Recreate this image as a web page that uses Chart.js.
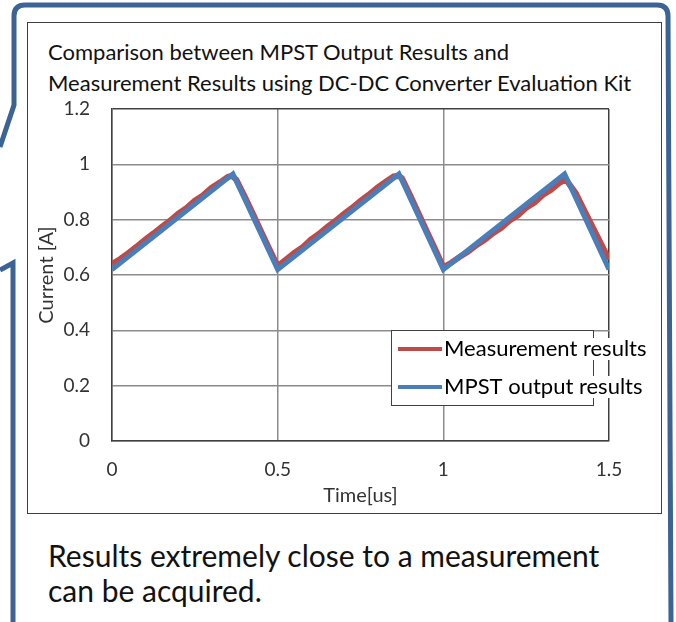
<!DOCTYPE html>
<html>
<head>
<meta charset="utf-8">
<script src="https://cdn.jsdelivr.net/npm/chart.js@4.4.0/dist/chart.umd.min.js"></script>
<style>
    body { margin: 0; background: #fff; }
    #page { position: relative; width: 676px; height: 622px; overflow: hidden; font-family: Lato, "Open Sans", sans-serif; }
    #frame { position: absolute; left: 0; top: 0; }
    #box { position: absolute; left: 27px; top: 22px; width: 635px; height: 492px; border: 1px solid #404040; box-sizing: border-box; }
    #title { position: absolute; left: 48px; top: 36px; font-size: 22px; line-height: 31px; color: #111; white-space: nowrap; }
    #chartWrap { position: absolute; left: 28px; top: 23px; }
    #caption { position: absolute; left: 48px; top: 538px; font-size: 30px; line-height: 35px; color: #111; white-space: nowrap; }
</style>
</head>
<body>
<div id="page">
    <svg id="frame" width="676" height="622">
        <path d="M 0 147 L 14 105 L 14 16 Q 14 5 25 5 L 657 5 Q 668 5 668 16 L 671 622" fill="none" stroke="#3b6495" stroke-width="5" />
        <path d="M 0 270 L 13 263 L 13 622" fill="none" stroke="#3b6495" stroke-width="5" />
    </svg>
    <div id="box"></div>
    <div id="title">Comparison between MPST Output Results and<br>Measurement Results using DC-DC Converter Evaluation Kit</div>
    <div id="chartWrap"><canvas id="myChart" width="632" height="489"></canvas></div>
    <div id="caption">Results extremely close to a measurement<br>can be acquired.</div>
</div>

<script>
const measTime = [0, 0.025, 0.05, 0.075, 0.1, 0.125, 0.15, 0.175, 0.2, 0.225, 0.25, 0.275, 0.3, 0.325, 0.35, 0.362,
    0.375, 0.4, 0.425, 0.45, 0.475, 0.5,
    0.525, 0.55, 0.575, 0.6, 0.625, 0.65, 0.675, 0.7, 0.725, 0.75, 0.775, 0.8, 0.825, 0.85, 0.866,
    0.875, 0.9, 0.925, 0.95, 0.975, 1.0,
    1.025, 1.05, 1.075, 1.1, 1.125, 1.15, 1.175, 1.2, 1.225, 1.25, 1.275, 1.3, 1.325, 1.35, 1.37,
    1.4, 1.425, 1.45, 1.475, 1.5];
const measCurrent = [0.64, 0.658, 0.68, 0.703, 0.728, 0.75, 0.774, 0.796, 0.822, 0.842, 0.869, 0.888, 0.915, 0.934, 0.955, 0.958,
    0.945, 0.885, 0.822, 0.757, 0.694, 0.632,
    0.656, 0.68, 0.7, 0.728, 0.749, 0.774, 0.796, 0.821, 0.843, 0.868, 0.89, 0.915, 0.936, 0.956, 0.958,
    0.95, 0.888, 0.823, 0.758, 0.695, 0.628,
    0.645, 0.666, 0.685, 0.708, 0.727, 0.751, 0.77, 0.797, 0.816, 0.843, 0.862, 0.889, 0.908, 0.933, 0.945,
    0.895, 0.835, 0.775, 0.715, 0.655];

// simulator output (clean sawtooth)
const mpstTime = [0, 0.365, 0.5, 0.866, 1.0, 1.366, 1.5];
const mpstCurrent = [0.62, 0.965, 0.62, 0.965, 0.62, 0.965, 0.62];

const seriesNames = ['Measurement results', 'MPST output results'];
const seriesColors = ['#be4b48', '#4a7ebb'];

const xTickValues = [0, 0.5, 1, 1.5];
const xTickLabels = ['0', '0.5', '1', '1.5'];
const yTickValues = [0, 0.2, 0.4, 0.6, 0.8, 1, 1.2];
const yTickLabels = ['0', '0.2', '0.4', '0.6', '0.8', '1', '1.2'];

const tickColor = '#333333';
const gridColor = '#8c8c8c';
const frameColor = '#404040';

function toPoints(xs, ys) {
    return xs.map((x, i) => ({ x: x, y: ys[i] }));
}

// legend drawn as a bordered box inside the plot, like the Excel one
const boxLegend = {
    id: 'boxLegend',
    afterDatasetsDraw(chart) {
        const ctx = chart.ctx;
        const area = chart.chartArea;
        const bx = area.right - 218;
        const by = area.top + 221;
        ctx.save();
        ctx.fillStyle = '#fff';
        ctx.fillRect(bx, by, 202, 75);
        ctx.strokeStyle = frameColor;
        ctx.lineWidth = 1;
        ctx.strokeRect(bx + 0.5, by + 0.5, 202, 75);
        ctx.font = '22px Lato, "Open Sans", sans-serif';
        ctx.textBaseline = 'middle';
        seriesNames.forEach((name, i) => {
            const ly = by + 19 + i * 38;
            const w = ctx.measureText(name).width;
            ctx.fillStyle = '#fff';
            ctx.fillRect(bx + 52, ly - 11, w + 2, 22);
            ctx.strokeStyle = seriesColors[i];
            ctx.lineWidth = 4;
            ctx.beginPath();
            ctx.moveTo(bx + 7, ly);
            ctx.lineTo(bx + 51, ly);
            ctx.stroke();
            ctx.fillStyle = '#000';
            ctx.fillText(name, bx + 53, ly);
        });
        ctx.restore();
    }
};

var ctx = document.getElementById('myChart');

const myChart = new Chart(ctx, {
    type: 'line',
    data: {
        datasets: [{
            label: seriesNames[0],
            data: toPoints(measTime, measCurrent),
            borderColor: seriesColors[0],
            backgroundColor: seriesColors[0],
            borderWidth: 6,
            pointRadius: 0,
            order: 1
        }, {
            label: seriesNames[1],
            data: toPoints(mpstTime, mpstCurrent),
            borderColor: seriesColors[1],
            backgroundColor: seriesColors[1],
            borderWidth: 5,
            pointRadius: 0,
            order: 0
        }]
    },
    options: {
        responsive: false,
        animation: false,
        layout: { padding: { left: 0, top: 86, right: 51, bottom: 0 } },
        plugins: {
            legend: { display: false },
            tooltip: { enabled: false }
        },
        scales: {
            x: {
                type: 'linear',
                min: 0,
                max: 1.5,
                afterBuildTicks: (scale) => { scale.ticks = xTickValues.map(v => ({ value: v })); },
                afterFit: (scale) => { scale.height = 71; },
                ticks: {
                    callback: (v, i) => xTickLabels[i],
                    color: tickColor,
                    font: { family: 'Lato', size: 19 },
                    padding: 17,
                    maxRotation: 0
                },
                grid: {
                    drawTicks: false,
                    lineWidth: 1.5,
                    color: (c) => c.index === xTickValues.length - 1 ? frameColor : gridColor
                },
                border: { color: frameColor, width: 1.5 },
                title: {
                    display: true,
                    text: 'Time[us]',
                    color: tickColor,
                    font: { family: 'Lato', size: 20 },
                    padding: { top: 0, bottom: 4 }
                }
            },
            y: {
                min: 0,
                max: 1.2,
                afterBuildTicks: (scale) => { scale.ticks = yTickValues.map(v => ({ value: v })); },
                afterFit: (scale) => { scale.width = 84; },
                ticks: {
                    callback: (v, i) => yTickLabels[i],
                    color: tickColor,
                    font: { family: 'Lato', size: 19 },
                    padding: 22
                },
                grid: {
                    drawTicks: false,
                    lineWidth: 1.5,
                    color: (c) => c.index === yTickValues.length - 1 ? frameColor : gridColor
                },
                border: { color: frameColor, width: 1.5 },
                title: {
                    display: true,
                    text: 'Current [A]',
                    color: tickColor,
                    font: { family: 'Lato', size: 20 },
                    padding: { top: 7, bottom: 0 }
                }
            }
        }
    },
    plugins: [boxLegend]
});
</script>
</body>
</html>
